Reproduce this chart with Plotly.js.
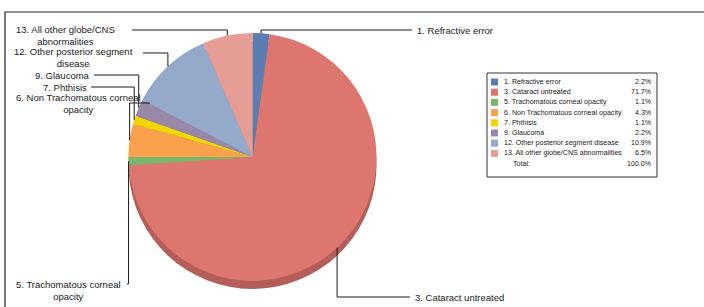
<!DOCTYPE html>
<html>
<head>
<meta charset="utf-8">
<script src="https://cdn.plot.ly/plotly-3.0.1.min.js"></script>
<style>html,body{margin:0;padding:0;background:#fff}#chart{width:704px;height:307px}</style>
</head>
<body>
<div id="chart"></div>
<script>
// ---- data ----
const labels = ['1. Refractive error','3. Cataract untreated','5. Trachomatous corneal opacity','6. Non Trachomatous corneal opacity','7. Phthisis','9. Glaucoma','12. Other posterior segment disease','13. All other globe/CNS abnormalities'];
const values = [2.2, 71.7, 1.1, 4.3, 1.1, 2.2, 10.9, 6.5];
const calloutText = ['1. Refractive error','3. Cataract untreated','5. Trachomatous corneal<br>opacity','6. Non Trachomatous corneal<br>opacity','7. Phthisis','9. Glaucoma','12. Other posterior segment<br>disease','13. All other globe/CNS<br>abnormalities'];
const legendPct = ['2.2%','71.7%','1.1%','4.3%','1.1%','2.2%','10.9%','6.5%'];
const totalLabel = 'Total:';
const totalPct = '100.0%';

// ---- styles / layout ----
const colors = ['#5B7DB2','#DE7670','#7CB46B','#F9A14D','#F2D600','#9987A8','#95AACB','#E69D95'];
const shade  = ['#4A6791','#B35E59','#62914F','#C9803B','#C2AB00','#7A6C87','#7788A3','#B87D77'];
const W = 704, H = 307;
const cx = 252.5, cy = 157, R = 124, depth = 8;
const fx = x => x / W, fy = y => 1 - y / H;
const font = 'Liberation Sans, Arial, sans-serif';

// label placement: [lineEndX, lineEndY, textX, textY, xanchor]
const place = [
  [412, 30, 415, 30, 'left'],
  [410, 297, 413, 297, 'left'],
  [127, 284, 68, 290, 'center'],
  [150, 103, 78, 104, 'center'],
  [91, 87, 89, 87, 'right'],
  [94, 75, 92, 75, 'right'],
  [143, 53, 73, 57.5, 'center'],
  [132, 30, 65, 35, 'center']
];

const total = values.reduce((a, b) => a + b, 0);
const shapes = [];
const annotations = [];
let cum = 0;
values.forEach((v, i) => {
  const mid = (cum + v / 2) / total * 2 * Math.PI;
  cum += v;
  const ax = cx + R * Math.sin(mid), ay = cy - R * Math.cos(mid);
  const p = place[i];
  shapes.push({type: 'path', xref: 'paper', yref: 'paper',
    path: `M${fx(p[0])},${fy(p[1])} L${fx(ax)},${fy(p[1])} L${fx(ax)},${fy(ay)}`,
    line: {color: '#1a1a1a', width: 1}});
  annotations.push({xref: 'paper', yref: 'paper', x: fx(p[2]), y: fy(p[3]),
    xanchor: p[4], yanchor: 'middle', align: 'center', showarrow: false,
    text: calloutText[i], font: {family: font, size: 9.5, color: '#1a1a1a'}});
});

// frame
shapes.push({type: 'path', xref: 'paper', yref: 'paper',
  path: `M${fx(5)},${fy(307)} L${fx(5)},${fy(12)} L${fx(704)},${fy(12)}`,
  line: {color: '#222', width: 1.2}});

// legend table
const lx0 = 487, ly0 = 73, lx1 = 657, ly1 = 177, rowH = 10.2, row0 = 82;
const lf = {family: font, size: 7.1, color: '#222'};
shapes.push({type: 'rect', xref: 'paper', yref: 'paper', x0: fx(lx0), x1: fx(lx1), y0: fy(ly0), y1: fy(ly1),
  line: {color: '#333', width: 1}, fillcolor: 'rgba(0,0,0,0)'});
labels.forEach((lab, i) => {
  const y = row0 + i * rowH;
  shapes.push({type: 'rect', xref: 'paper', yref: 'paper', x0: fx(491), x1: fx(498), y0: fy(y - 3.5), y1: fy(y + 3.5),
    line: {width: 0}, fillcolor: colors[i]});
  annotations.push({xref: 'paper', yref: 'paper', x: fx(502), y: fy(y), xanchor: 'left', yanchor: 'middle',
    showarrow: false, text: lab, font: lf});
  annotations.push({xref: 'paper', yref: 'paper', x: fx(654), y: fy(y), xanchor: 'right', yanchor: 'middle',
    showarrow: false, text: legendPct[i], font: lf});
});
const ty = row0 + labels.length * rowH;
annotations.push({xref: 'paper', yref: 'paper', x: fx(511), y: fy(ty), xanchor: 'left', yanchor: 'middle',
  showarrow: false, text: totalLabel, font: lf});
annotations.push({xref: 'paper', yref: 'paper', x: fx(654), y: fy(ty), xanchor: 'right', yanchor: 'middle',
  showarrow: false, text: totalPct, font: lf});

const dom = (off) => ({x: [fx(cx - R), fx(cx + R)], y: [fy(cy + off + R), fy(cy + off - R)]});
const traces = [
  {type: 'pie', labels: labels, values: values, sort: false, direction: 'clockwise', rotation: 0,
   textinfo: 'none', hoverinfo: 'skip', marker: {colors: shade, line: {width: 0}}, domain: dom(depth), showlegend: false},
  {type: 'pie', labels: labels, values: values, sort: false, direction: 'clockwise', rotation: 0,
   textinfo: 'none', marker: {colors: colors, line: {width: 0}}, domain: dom(0), showlegend: false}
];

Plotly.newPlot('chart', traces, {
  width: W, height: H, margin: {l: 0, r: 0, t: 0, b: 0},
  paper_bgcolor: '#fff', plot_bgcolor: '#fff', showlegend: false,
  shapes: shapes, annotations: annotations
}, {displayModeBar: false, staticPlot: true});
</script>
</body>
</html>
